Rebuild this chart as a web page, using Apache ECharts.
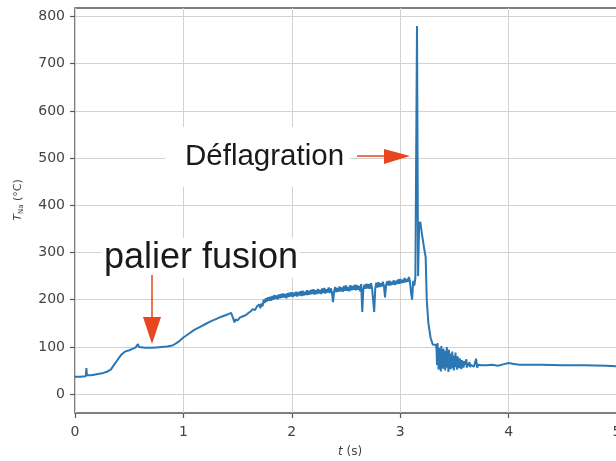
<!DOCTYPE html>
<html><head><meta charset="utf-8">
<script src="https://cdn.jsdelivr.net/npm/echarts@6/dist/echarts.min.js"></script>
<style>html,body{margin:0;padding:0;background:#fff}#c{width:616px;height:461px}</style>
</head><body><div id="c"></div>
<script>
const xTicks = [0, 1, 2, 3, 4, 5];
const yTicks = [0, 100, 200, 300, 400, 500, 600, 700, 800];

// heating phase (irregular sample times)
const heatT = [0, 0.05, 0.10, 0.105, 0.11, 0.115, 0.15, 0.2, 0.25, 0.3, 0.33, 0.36, 0.4, 0.43, 0.46, 0.5, 0.53, 0.56, 0.58, 0.59, 0.6, 0.65, 0.7, 0.75, 0.8, 0.85, 0.9, 0.95, 1.0, 1.05, 1.1, 1.15, 1.2, 1.25, 1.3, 1.35, 1.4, 1.44, 1.46, 1.47, 1.48, 1.5, 1.52, 1.55, 1.58, 1.6, 1.62, 1.64, 1.66, 1.68];
const heatV = [37, 37, 38, 55, 40, 39, 40, 42, 44, 48, 52, 62, 75, 84, 90, 93, 96, 99, 106, 100, 98, 98, 98, 99, 100, 101, 103, 110, 120, 128, 136, 142, 148, 154, 159, 164, 168, 172, 160, 152, 158, 156, 162, 165, 168, 172, 175, 180, 178, 186];

// noisy plateau, sampled every 0.01 s from 1.70 s to 3.14 s
const plateauStart = 1.70, plateauStep = 0.01;
const plateauV = [
  190, 182, 192, 186, 200, 193, 203, 196, 205, 198,
  206, 198, 208, 200, 210, 202, 209, 201, 211, 203,
  212, 204, 213, 205, 212, 203, 214, 206, 215, 207,
  216, 206, 215, 208, 217, 207, 216, 209, 218, 208,
  219, 209, 217, 210, 220, 210, 219, 211, 221, 212,
  222, 211, 220, 212, 223, 213, 221, 212, 224, 214,
  225, 213, 222, 215, 226, 214, 224, 216, 195, 217,
  227, 216, 225, 217, 228, 218, 226, 217, 229, 219,
  230, 219, 227, 218, 231, 220, 229, 221, 232, 220,
  231, 221, 229, 218, 233, 174, 222, 232, 223, 234,
  224, 233, 223, 235, 225, 229, 174, 224, 236, 226,
  237, 227, 235, 228, 238, 229, 205, 231, 239, 230,
  240, 230, 238, 232, 241, 231, 240, 233, 243, 234,
  244, 235, 242, 236, 246, 237, 244, 238, 248, 239,
  215, 200, 240, 230, 246
];

// deflagration peak and fall
const peakT = [3.15, 3.155, 3.165, 3.175, 3.185, 3.20, 3.22, 3.235, 3.245, 3.26, 3.28, 3.30, 3.33];
const peakV = [250, 780, 250, 360, 365, 340, 310, 290, 200, 150, 120, 105, 104];

// oscillations after the event, sampled every 0.005 s from 3.335 s
const oscStart = 3.335, oscStep = 0.005;
const oscV = [
  95, 62, 108, 70, 52, 98, 58, 88, 48, 102, 66, 90, 54, 96, 60, 84,
  50, 92, 62, 100, 56, 80, 47, 94, 64, 86, 52, 78, 58, 90, 55, 82,
  50, 76, 60, 88, 57, 72, 52, 80, 62, 70, 55, 76, 58, 68, 53, 72,
  60, 66, 56, 70, 62, 64, 58, 74, 56, 66, 60, 63, 59, 68, 57, 62
];

// final cooling tail
const tailT = [3.66, 3.68, 3.70, 3.71, 3.72, 3.75, 3.8, 3.85, 3.9, 3.95, 4.0, 4.05, 4.1, 4.3, 4.5, 4.7, 4.9, 5.0];
const tailV = [66, 58, 75, 56, 62, 61, 61, 62, 60, 63, 66, 64, 62, 62, 61, 61, 60, 59];

const data = [];
heatT.forEach((t, i) => data.push([t, heatV[i]]));
plateauV.forEach((v, i) => data.push([+(plateauStart + i * plateauStep).toFixed(3), v]));
peakT.forEach((t, i) => data.push([t, peakV[i]]));
oscV.forEach((v, i) => data.push([+(oscStart + i * oscStep).toFixed(3), v]));
tailT.forEach((t, i) => data.push([t, tailV[i]]));

const chart = echarts.init(document.getElementById('c'), null, {renderer: 'canvas'});
const red = '#e8461e';
const tickFont = {fontFamily: 'DejaVu Sans', fontSize: 14, color: '#444'};
chart.setOption({
  animation: false,
  backgroundColor: '#fff',
  grid: {left: 75, top: 8, width: 542, height: 405, outerBoundsMode: 'none', containLabel: false,
         show: true, borderColor: '#555', borderWidth: 1.5, backgroundColor: 'transparent'},
  xAxis: {
    type: 'value', min: 0, max: 5, interval: 1,
    axisLine: {show: false, onZero: false},
    axisTick: {show: true, inside: false, length: 5, lineStyle: {color: '#555', width: 1.2}},
    axisLabel: Object.assign({margin: 12, formatter: v => xTicks.includes(v) ? String(v) : ''}, tickFont),
    splitLine: {show: true, lineStyle: {color: '#d2d2d2', width: 1}}
  },
  yAxis: {
    type: 'value', min: -40, max: 818,
    axisLine: {show: false, onZero: false},
    axisTick: {show: true, length: 5, customValues: yTicks, lineStyle: {color: '#555', width: 1.2}},
    axisLabel: Object.assign({margin: 10, customValues: yTicks}, tickFont),
    splitLine: {show: true, lineStyle: {color: '#d2d2d2', width: 1}}
  },
  series: [{
    type: 'line', data: data, showSymbol: false, symbol: 'none',
    lineStyle: {color: '#2a77b4', width: 2}, z: 3
  }],
  graphic: [
    {type: 'text', x: 18, y: 200, rotation: Math.PI / 2, z: 10,
     style: {text: '{i|T}{s|Na} (°C)', align: 'center', verticalAlign: 'middle',
       rich: {i: {fontFamily: 'DejaVu Sans', fontStyle: 'italic', fontSize: 11, fill: '#444'},
              s: {fontFamily: 'DejaVu Sans', fontSize: 7, fill: '#444', verticalAlign: 'bottom', padding: [6, 0, 0, 0]}},
       fontFamily: 'DejaVu Sans', fontSize: 11, fill: '#444'}},
    {type: 'text', x: 350, y: 452, z: 10,
     style: {text: '{i|t} (s)', align: 'center', verticalAlign: 'middle', fontFamily: 'DejaVu Sans', fontSize: 12, fill: '#444',
       rich: {i: {fontFamily: 'DejaVu Sans', fontStyle: 'italic', fontSize: 12, fill: '#444'}}}},
    {type: 'text', x: 102, y: 258, z: 10,
     style: {text: 'palier fusion', align: 'left', verticalAlign: 'middle', fontFamily: 'Liberation Sans', fontSize: 36, fill: '#1a1a1a',
       backgroundColor: '#fff', padding: [2, 2, 2, 2]}},
    {type: 'text', x: 165, y: 157, z: 10,
     style: {text: 'Déflagration', align: 'left', verticalAlign: 'middle', fontFamily: 'Liberation Sans', fontSize: 29.5, fill: '#1a1a1a',
       backgroundColor: '#fff', padding: [16, 6, 14, 20]}},
    {type: 'line', z: 11, shape: {x1: 152, y1: 275, x2: 152, y2: 320}, style: {stroke: red, lineWidth: 1.5}},
    {type: 'polygon', z: 11, shape: {points: [[143, 317], [161, 317], [152, 344]]}, style: {fill: red}},
    {type: 'line', z: 11, shape: {x1: 357, y1: 156, x2: 388, y2: 156}, style: {stroke: red, lineWidth: 1.5}},
    {type: 'polygon', z: 11, shape: {points: [[384, 149], [384, 164], [410, 156]]}, style: {fill: red}}
  ]
});
</script>
</body></html>
